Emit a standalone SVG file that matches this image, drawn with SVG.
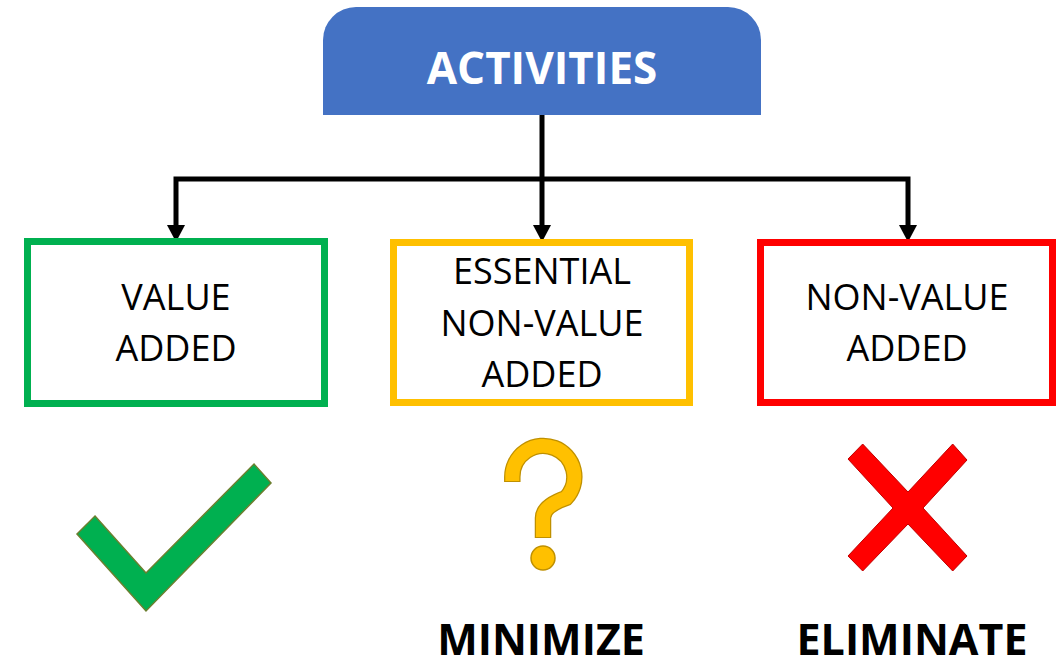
<svg xmlns="http://www.w3.org/2000/svg" width="1056" height="660" viewBox="0 0 1056 660">
  <style>
    .lbl { font-family: "Open Sans", "Liberation Sans", sans-serif; font-size: 36px; fill: #000; text-anchor: middle; }
    .big { font-family: "Open Sans", "Liberation Sans", sans-serif; font-size: 43px; font-weight: bold; fill: #000; text-anchor: middle; }
    .title { font-family: "Open Sans", "Liberation Sans", sans-serif; font-size: 44px; font-weight: bold; fill: #fff; text-anchor: middle; }
    .box { fill: #fff; stroke-width: 7; }
    .conn { fill: none; stroke: #000; stroke-width: 5; stroke-linejoin: miter; }
  </style>
  <defs>
    <marker id="arrow" markerUnits="userSpaceOnUse" viewBox="0 0 17 18" markerWidth="17" markerHeight="18" refX="0" refY="9" orient="auto">
      <path d="M0 0 L17 9 L0 18 Z" fill="#000"/>
    </marker>
  </defs>
  <rect width="1056" height="660" fill="#fff"/>

  <g id="connectors">
    <path class="conn" d="M542 114 V225" marker-end="url(#arrow)"/>
    <path class="conn" d="M542 179 H176 V225" marker-end="url(#arrow)"/>
    <path class="conn" d="M542 179 H908 V225" marker-end="url(#arrow)"/>
  </g>

  <g id="activities">
    <path d="M323 115 V40 A33 33 0 0 1 356 7 H728 A33 33 0 0 1 761 40 V115 Z" fill="#4472C4"/>
    <text class="title" x="542" y="84">ACTIVITIES</text>
  </g>

  <g id="value-added">
    <rect class="box" x="27.5" y="241.5" width="297" height="162" stroke="#00B050"/>
    <text class="lbl" x="176" y="310">VALUE</text>
    <text class="lbl" x="176" y="361">ADDED</text>
  </g>

  <g id="essential-nva">
    <rect class="box" x="393.5" y="242.5" width="296" height="160" stroke="#FFC000"/>
    <text class="lbl" x="542" y="284">ESSENTIAL</text>
    <text class="lbl" x="542" y="336">NON-VALUE</text>
    <text class="lbl" x="542" y="387">ADDED</text>
  </g>

  <g id="non-value-added">
    <rect class="box" x="760.5" y="242.5" width="292" height="160" stroke="#FF0000"/>
    <text class="lbl" x="907" y="310">NON-VALUE</text>
    <text class="lbl" x="907" y="361">ADDED</text>
  </g>

  <g id="check">
    <polygon points="95,516 146,573 254,464 271,483 146,611 77,534" fill="#00B050" stroke="#6B7F2F" stroke-width="1.5"/>
  </g>

  <g id="question">
    <path d="M512.3 482 V477 A31 31 0 1 1 566 498 Q543 506 543 518 V538" fill="none" stroke="#BF9000" stroke-width="16.5"/>
    <path d="M512.3 481 V477 A31 31 0 1 1 566 498 Q543 506 543 518 V537" fill="none" stroke="#FFC000" stroke-width="14"/>
    <circle cx="543" cy="558" r="12" fill="#FFC000" stroke="#BF9000" stroke-width="1.5"/>
  </g>

  <g id="cross">
    <polygon points="862.7,444 908,492 952.7,444 967,460 923,508 967,556 952.7,571 908,524 862.7,571 848,556 893,508 848,459" fill="#FF0000" stroke="#C00000" stroke-width="1"/>
  </g>

  <g id="minimize">
    <text class="big" x="541" y="655">MINIMIZE</text>
  </g>
  <g id="eliminate">
    <text class="big" x="912" y="655">ELIMINATE</text>
  </g>
</svg>
